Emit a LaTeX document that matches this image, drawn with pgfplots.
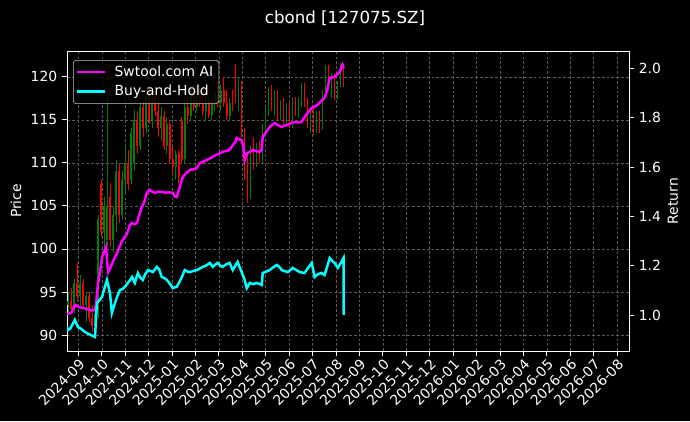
\documentclass[border=0pt]{standalone}
\usepackage{fontspec}
\setmainfont{DejaVu Sans}
\usepackage{pgfplots}
\usepackage{pgfplotstable}
\pgfplotsset{compat=1.18}

\definecolor{upgreen}{RGB}{0,128,0}
\definecolor{downred}{RGB}{255,0,0}
\definecolor{gridgray}{RGB}{90,90,90}
\definecolor{legframe}{RGB}{200,200,200}
\definecolor{stratmag}{RGB}{255,0,255}
\definecolor{holdcyan}{RGB}{0,255,255}

% daily candles, k = trading-day slot (about 3 days apart)
\pgfplotstableread{
k o h l c
0 93.5 95 92.5 94
1 94 95.5 92.8 93
2 93 96.5 92.5 96
3 96 98.4 94 94.5
4 94.5 97 93 96
5 96 96.5 93 93.5
6 93.5 95 91.5 94.5
7 94.5 95 91.5 92
8 92 93.5 90.3 91
9 91 93 90 92.5
10 92.5 104 92 103.5
11 107.5 108 101.4 102
12 102 106 100 105
13 101 118 100.5 105
14 106 107.7 100.2 101
15 101 105 99.5 104
16 104 110.3 102 109
17 109 110 103 104
18 104 109 103.5 108
19 108 112 106.5 110
20 110 111.5 106.9 107.5
21 108 114 107.5 113.5
22 110 116.2 109 115
23 115 116 111 112
24 112 117 111.5 116.5
25 116.5 117.2 113 114
26 114 118.5 113.5 118
27 118 119 114.5 115
28 115 118.3 114 117.5
29 117.5 119 115.5 116
30 116 117.5 113 114
31 114 116.5 112.5 115.5
32 115.5 116 111.5 112
33 112 115.3 111 114.5
34 114.5 115 110 110.5
35 110.5 112 108.8 109.5
36 109.5 111.5 108 111
37 111 111.5 107.5 108.5
38 115 115.3 110 110.3
39 110.5 117.3 110 116.5
40 116.5 118 114.5 115.5
41 115.5 118.5 115 118
42 118 118.7 116 116.5
43 116.5 119 116 118.5
44 118.5 119 116.5 117
45 117 118 115.5 116
46 116 117.7 115 117.2
47 117.2 117.7 115.2 115.6
48 115.6 117.5 115 117
49 117 118.5 116 118
50 118 119.5 116.5 117
51 117 119 116 118.5
52 118.5 120 116.5 117
53 117 118.5 115 115.5
54 115.5 117.5 115 117
55 117 118.5 116 116.5
56 120.5 121.5 117 117.5
57 117.5 120 116 119
58 119 119.5 113 113.5
59 113.5 114 108 109
60 108 111 105.3 106
61 106 112 105.8 111.5
62 111.5 113 109.2 110
63 110 112.3 109.5 112
64 112 112.5 110 110.5
65 110.5 114.5 110 114.2
66 114.2 116.5 113.5 116
67 116 118.8 115.5 118.5
68 118.5 119 116 116.5
69 116.5 118.5 115.5 118
70 118 118.5 115 115.5
71 115.5 117.3 115 117
72 117 117.5 114.5 115
73 115 117 114.2 116.5
74 116.5 117 114 114.5
75 114.5 117.7 114 117.2
76 117.2 117.7 115.5 116
77 116 117.5 115.2 117
78 117 119.3 116.5 119
79 119 119.3 116.5 117
80 117 117.5 114 114.5
81 114.5 116.5 113.5 116
82 116 116.5 113.2 113.7
83 113.7 116 113.5 115.5
84 115.5 116 113.5 114
85 114 118.5 113.8 118
86 118 121.4 117.5 121
87 121 121.4 118.5 119
88 119 120.5 117.5 120
89 120 120.3 117.3 117.8
90 117.8 119.5 117.3 119
91 119 121.6 118.8 121.3
92 121.3 121.5 118.8 119.5
}\candles

% x in months from 2024-09
\pgfplotstableread{
m r
-0.49 1.004
-0.38 1.006
-0.28 1.012
-0.18 1.035
-0.10 1.041
0.00 1.033
0.10 1.030
0.20 1.028
0.32 1.025
0.45 1.022
0.58 1.018
0.71 1.020
0.76 1.050
0.84 1.130
0.92 1.170
1.01 1.235
1.10 1.255
1.18 1.276
1.24 1.200
1.28 1.174
1.36 1.190
1.45 1.210
1.56 1.235
1.65 1.250
1.77 1.280
1.86 1.300
1.99 1.316
2.08 1.330
2.20 1.365
2.29 1.373
2.40 1.368
2.50 1.373
2.60 1.405
2.71 1.438
2.82 1.460
2.92 1.495
3.05 1.507
3.15 1.500
3.27 1.495
3.40 1.500
3.56 1.499
3.70 1.496
3.85 1.497
4.03 1.495
4.12 1.480
4.20 1.478
4.30 1.510
4.46 1.559
4.60 1.575
4.76 1.588
4.90 1.590
5.06 1.596
5.18 1.616
5.30 1.620
5.48 1.628
5.60 1.634
5.74 1.641
5.90 1.650
6.03 1.655
6.16 1.661
6.30 1.665
6.46 1.669
6.59 1.689
6.70 1.700
6.76 1.718
6.85 1.712
6.97 1.709
7.05 1.680
7.10 1.628
7.17 1.650
7.23 1.657
7.35 1.663
7.44 1.669
7.60 1.664
7.74 1.661
7.83 1.669
7.87 1.722
7.97 1.735
8.08 1.750
8.20 1.765
8.38 1.778
8.50 1.770
8.68 1.762
8.80 1.768
8.93 1.770
9.10 1.778
9.23 1.782
9.40 1.780
9.53 1.782
9.66 1.803
9.80 1.820
9.96 1.839
10.10 1.845
10.21 1.851
10.35 1.865
10.51 1.880
10.62 1.910
10.73 1.961
10.85 1.963
10.94 1.965
11.05 1.975
11.15 1.985
11.28 2.014
11.33 2.001
}\strategy

\pgfplotstableread{
m r
-0.49 0.951
-0.44 0.939
-0.35 0.945
-0.25 0.962
-0.15 0.980
-0.08 0.965
-0.02 0.951
0.10 0.945
0.28 0.931
0.40 0.925
0.55 0.918
0.71 0.911
0.79 1.049
0.90 1.060
1.01 1.073
1.12 1.110
1.22 1.142
1.35 1.089
1.43 1.008
1.55 1.045
1.65 1.073
1.77 1.101
1.88 1.105
1.99 1.114
2.11 1.130
2.20 1.140
2.29 1.154
2.41 1.130
2.54 1.170
2.65 1.150
2.75 1.142
2.85 1.165
2.97 1.182
3.08 1.178
3.18 1.174
3.35 1.195
3.45 1.185
3.56 1.154
3.67 1.150
3.78 1.142
3.92 1.125
4.03 1.109
4.12 1.112
4.20 1.114
4.32 1.135
4.42 1.154
4.54 1.182
4.65 1.176
4.76 1.174
4.90 1.178
5.06 1.182
5.18 1.188
5.31 1.195
5.45 1.200
5.61 1.211
5.74 1.195
5.85 1.205
5.95 1.211
6.05 1.200
6.16 1.195
6.30 1.205
6.46 1.211
6.59 1.182
6.70 1.200
6.80 1.215
6.90 1.190
6.97 1.174
7.10 1.142
7.19 1.109
7.32 1.130
7.45 1.125
7.61 1.130
7.72 1.126
7.83 1.122
7.87 1.170
8.00 1.175
8.17 1.182
8.30 1.192
8.47 1.203
8.58 1.195
8.68 1.182
8.80 1.178
8.93 1.174
9.05 1.182
9.15 1.191
9.30 1.182
9.45 1.174
9.55 1.172
9.66 1.170
9.80 1.190
9.96 1.211
10.09 1.154
10.22 1.165
10.38 1.170
10.51 1.162
10.62 1.195
10.73 1.231
10.83 1.220
10.94 1.211
11.07 1.191
11.20 1.210
11.32 1.231
11.33 1.000
}\buyhold

\pgfplotsset{
  common/.style={
    scale only axis, width=404.64pt, height=216pt,
    xmin=-0.486, xmax=23.51,
    axis line style={white, line width=0.6pt},
    tick style={white, line width=0.6pt},
    tick align=outside, major tick length=3.5pt,
    every tick label/.append style={text=white, font=\fontsize{10}{12}\selectfont},
    /pgf/number format/assume math mode=true,
    label style={text=white, font=\fontsize{10}{12}\selectfont},
  },
}

\begin{document}
\begin{tikzpicture}
\path[fill=black, use as bounding box] (-48.24pt,-50.4pt) rectangle (448.56pt,252.72pt);

\begin{axis}[common,
  ymin=88.14, ymax=123.0,
  ytick={90,95,...,120},
  xtick={0,...,23},
  xticklabels={2024-09,2024-10,2024-11,2024-12,2025-01,2025-02,2025-03,2025-04,2025-05,2025-06,2025-07,2025-08,2025-09,2025-10,2025-11,2025-12,2026-01,2026-02,2026-03,2026-04,2026-05,2026-06,2026-07,2026-08},
  xticklabel style={rotate=45, anchor=north east, inner sep=1pt},
  tick pos=left,
  grid=major,
  major grid style={gridgray, dash pattern=on 2pt off 1.5pt, line width=0.4pt},
  ylabel={Price},
  ylabel style={at={(axis description cs:-0.0907,0.5)}, anchor=center},
  axis background/.style={fill=black},
]
% wicks
\addplot[draw=none, mark=none, forget plot, error bars/.cd, y dir=both, y explicit, error mark=none,
  error bar style={draw=upgreen, line width=0.5pt}]
  table[x expr={\thisrow{c}>=\thisrow{o} ? -0.443+0.12788*\thisrow{k} : nan},
        y expr={(\thisrow{h}+\thisrow{l})/2}, y error expr={(\thisrow{h}-\thisrow{l})/2}] {\candles};
\addplot[draw=none, mark=none, forget plot, error bars/.cd, y dir=both, y explicit, error mark=none,
  error bar style={draw=downred, line width=0.5pt}]
  table[x expr={\thisrow{c}<\thisrow{o} ? -0.443+0.12788*\thisrow{k} : nan},
        y expr={(\thisrow{h}+\thisrow{l})/2}, y error expr={(\thisrow{h}-\thisrow{l})/2}] {\candles};
% bodies
\addplot[draw=none, mark=none, forget plot, error bars/.cd, y dir=both, y explicit, error mark=none,
  error bar style={draw=upgreen, line width=1.1pt}]
  table[x expr={\thisrow{c}>=\thisrow{o} ? -0.443+0.12788*\thisrow{k} : nan},
        y expr={(\thisrow{o}+\thisrow{c})/2}, y error expr={abs(\thisrow{c}-\thisrow{o})/2}] {\candles};
\addplot[draw=none, mark=none, forget plot, error bars/.cd, y dir=both, y explicit, error mark=none,
  error bar style={draw=downred, line width=1.1pt}]
  table[x expr={\thisrow{c}<\thisrow{o} ? -0.443+0.12788*\thisrow{k} : nan},
        y expr={(\thisrow{o}+\thisrow{c})/2}, y error expr={abs(\thisrow{c}-\thisrow{o})/2}] {\candles};
\end{axis}

\begin{axis}[common,
  ymin=0.854, ymax=2.070,
  axis x line=none,
  axis y line*=right,
  ytick={1,1.2,1.4,1.6,1.8,2},
  yticklabel style={/pgf/number format/.cd, fixed, fixed zerofill, precision=1},
  ylabel={Return},
  ylabel style={at={(axis description cs:1.078,0.5)}, anchor=center},
  legend style={at={(0.0107,0.97)}, anchor=north west, fill=black, fill opacity=0.8,
    text opacity=1, draw=legframe, rounded corners=2pt, text=white,
    font=\fontsize{10}{12}\selectfont, inner xsep=2pt, inner ysep=2pt, row sep=1pt,
    /tikz/every odd column/.append style={column sep=4pt}},
  legend image code/.code={\draw[#1] (0pt,0pt) -- (20pt,0pt);},
  legend cell align=left,
]
\addplot[stratmag, line width=1.8pt] table[x=m, y=r] {\strategy};
\addlegendentry{Swtool.com AI}
\addplot[holdcyan, line width=1.8pt] table[x=m, y=r] {\buyhold};
\addlegendentry{Buy-and-Hold}
\end{axis}

\node[text=white, font=\fontsize{12}{14}\selectfont] at (200.16pt,239.76pt) {cbond [127075.SZ]};
\end{tikzpicture}
\end{document}
